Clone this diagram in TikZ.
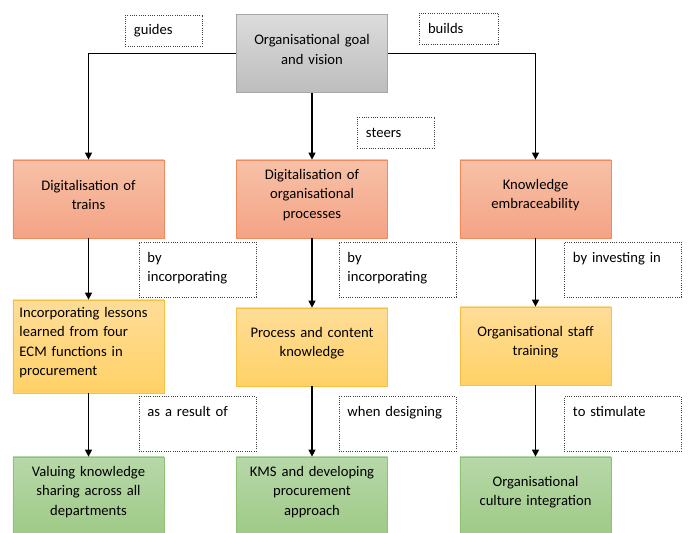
\documentclass[tikz,border=0pt]{standalone}
\usepackage{fontspec}
\setmainfont{Carlito}
\usetikzlibrary{arrows.meta}
\hyphenpenalty=10000
\exhyphenpenalty=10000

\definecolor{goaltop}{HTML}{DCDCDC}
\definecolor{goalbot}{HTML}{BDBDBD}
\definecolor{goalline}{HTML}{A6A6A6}
\definecolor{redtop}{HTML}{F7C1A7}
\definecolor{redbot}{HTML}{F4A385}
\definecolor{redline}{HTML}{EE8A5C}
\definecolor{ambtop}{HTML}{FFDD98}
\definecolor{ambbot}{HTML}{FFD166}
\definecolor{ambline}{HTML}{F6C042}
\definecolor{grntop}{HTML}{B7D8A9}
\definecolor{grnbot}{HTML}{9ECA86}
\definecolor{grnline}{HTML}{8FC172}

\begin{document}
\begin{tikzpicture}[x=0.025cm, y=-0.025cm,
		every node/.style={font=\fontsize{10.4}{13.9}\selectfont},
		box/.style={draw, line width=0.5pt, align=center, text width=3.45cm, minimum width=3.775cm, minimum height=1.95cm, inner sep=2pt, execute at end node={\endgraf\vspace{5.6pt}}},
		goal/.style={box, draw=goalline, top color=goaltop, bottom color=goalbot},
		aim/.style={box, draw=redline, top color=redtop, bottom color=redbot},
		means/.style={box, draw=ambline, top color=ambtop, bottom color=ambbot},
		outcome/.style={box, draw=grnline, top color=grntop, bottom color=grnbot},
		note/.style={draw=black!75, densely dotted, line width=0.6pt, align=left, inner xsep=0.2125cm, inner ysep=0.1cm},
		shortnote/.style={note, minimum height=0.775cm},
		tallnote/.style={note, text width=2.5cm, text height=0.4cm, text depth=0.775cm},
		arr/.style={-{Triangle[width=5pt,length=5pt]}, line width=0.9pt}]
	\clip (0,0) rectangle (688,532);
	\fill[white] (0,0) rectangle (688,532);

	% top of the tree
	\node[goal] (goal) at (312,53.5) {Organisational goal\\ and vision};

	% first level
	\node[aim] (trains) at (88.5,199) {Digitalisation of\\ trains};
	\node[aim] (process) at (312,199) {Digitalisation of\\ organisational\\ processes};
	\node[aim] (embrace) at (535.5,199) {Knowledge\\ embraceability};

	% second level
	\node[means, align=left, text width=3.45cm, minimum height=2.325cm] (lessons) at (88.5,346.5) {Incorporating lessons\\ learned from four\\ ECM functions in\\ procurement};
	\node[means] (content) at (312,347) {Process and content\\ knowledge};
	\node[means] (training) at (535.5,346) {Organisational staff\\ training};

	% third level
	\node[outcome] (sharing) at (88.5,496) {Valuing knowledge\\ sharing across all\\ departments};
	\node[outcome] (kms) at (312,496) {KMS and developing\\ procurement\\ approach};
	\node[outcome] (culture) at (535.5,496) {Organisational\\ culture integration};

	% dotted labels
	\node[shortnote, text width=1.5cm] (guides) at (164,30.5) {guides};
	\node[shortnote, text width=1.55cm] (builds) at (459,28.5) {builds};
	\node[shortnote, text width=1.5cm] (steers) at (396,132.5) {steers};
	\node[tallnote] (incleft) at (197.5,269.5) {by\\ incorporating};
	\node[tallnote] (incmid) at (397.5,269.5) {by\\ incorporating};
	\node[tallnote] (investing) at (623,269.5) {by investing in};
	\node[tallnote] (result) at (197.5,424) {as a result of};
	\node[tallnote] (designing) at (397.5,424) {when designing};
	\node[tallnote] (stimulate) at (623,424) {to stimulate};

	\draw[arr] (goal.west) -| (trains.north);
	\draw[arr] (goal.east) -| (embrace.north);
	\draw[arr] (goal) -- (process);
	\draw[arr] (trains) -- (lessons);
	\draw[arr] (process) -- (content);
	\draw[arr] (embrace) -- (training);
	\draw[arr] (lessons) -- (sharing);
	\draw[arr] (content) -- (kms);
	\draw[arr] (training) -- (culture);
\end{tikzpicture}
\end{document}
